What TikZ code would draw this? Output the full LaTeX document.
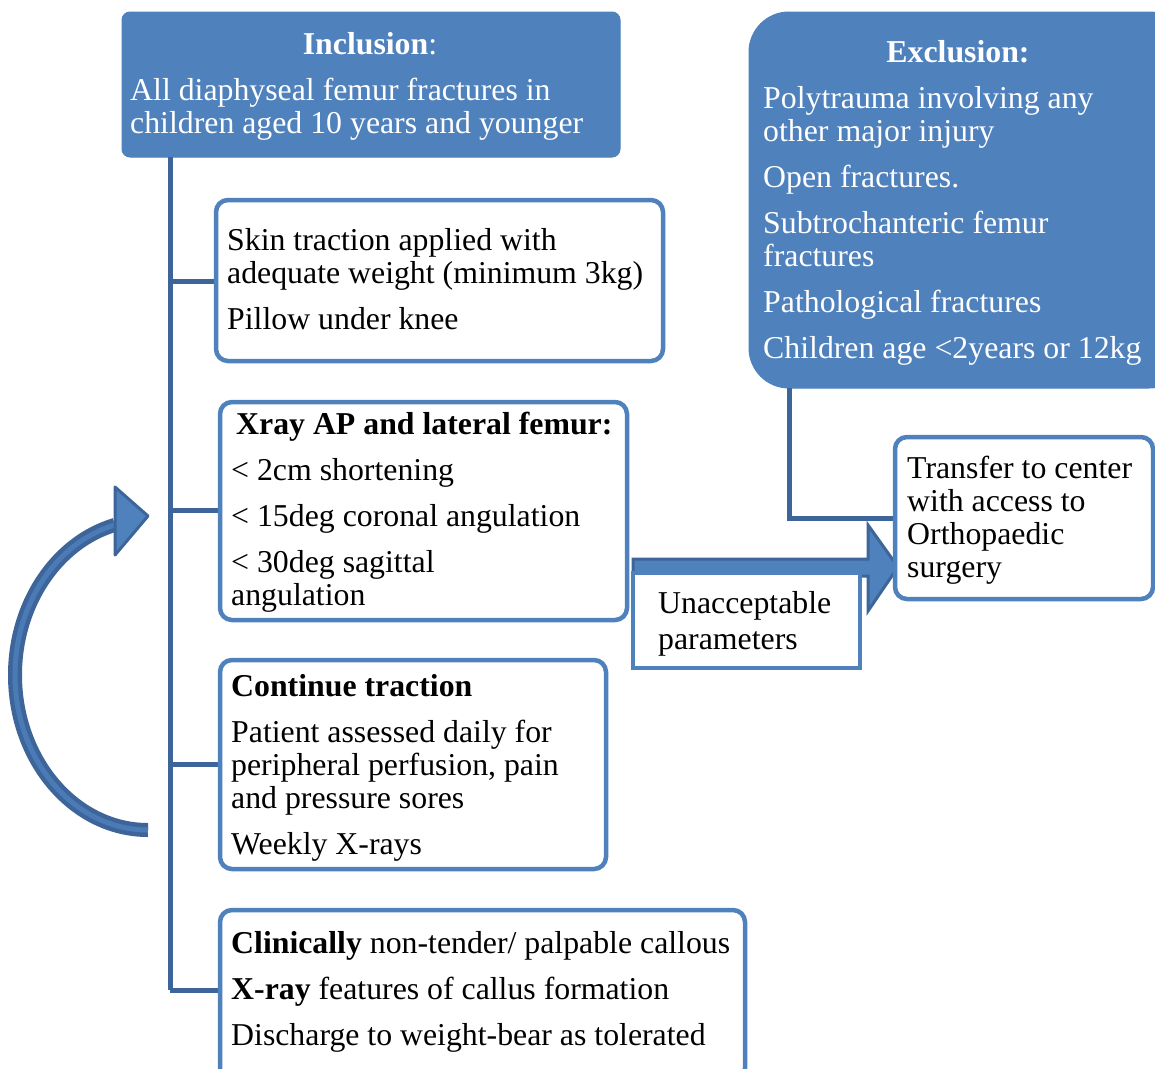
\documentclass[tikz,border=0pt]{standalone}
\usepackage{fontspec}
\setmainfont{Liberation Serif}
\definecolor{accent}{HTML}{4F81BD}
\definecolor{dark}{HTML}{3E6599}
\newcommand{\mylines}[1]{\begin{tabular}[t]{@{}l@{}}#1\end{tabular}}
\tikzset{
  filledbox/.style={fill=accent, draw=accent, line width=1pt, inner sep=0pt, outer sep=0pt, anchor=north west},
  whitebox/.style={draw=accent, line width=4.5pt, fill=white, rounded corners=12pt, inner sep=0pt, outer sep=0pt, anchor=north west},
  conn/.style={draw=dark, line width=5pt},
  txt/.style={inner sep=0pt, anchor=base west, font=\fontsize{31.8}{33}\selectfont},
  ctxt/.style={inner sep=0pt, anchor=base, font=\fontsize{31.8}{33}\selectfont},
}
\begin{document}
\begin{tikzpicture}[x=1pt,y=-1pt]
\clip (0,0) rectangle (1155,1068);
\fill[white] (0,0) rectangle (1155,1068);

% filled boxes
\node[filledbox, rounded corners=8pt, minimum width=498pt, minimum height=145pt] (incl) at (122,12) {};
\node[filledbox, rounded corners=40pt, minimum width=440pt, minimum height=376pt] (excl) at (749,12) {};

% connectors
\coordinate (trunkbot) at (170,990);
\draw[conn] (170,157) -- (trunkbot);
\draw[conn] (170,281) -- (216,281);
\draw[conn] (170,510) -- (220,510);
\draw[conn] (170,764) -- (220,764);
\draw[conn] (170,990) -- (220,990);
\draw[conn] (789,388) -- (789,518) -- (897,518);

% big block arrow
\draw[fill=accent, draw=dark, line width=3pt, line join=miter]
  (633,559) -- (868,559) -- (868,525) -- (898,567) -- (868,611) -- (868,576) -- (633,576) -- cycle;

% white boxes
\node[whitebox, minimum width=447pt, minimum height=161pt] (skin) at (216,200) {};
\node[whitebox, minimum width=407pt, minimum height=218pt] (xray) at (220,402) {};
\node[whitebox, minimum width=386pt, minimum height=209pt] (cont) at (220,660) {};
\node[whitebox, minimum width=525pt, minimum height=170pt] (last) at (220,910) {};
\node[whitebox, minimum width=258pt, minimum height=162pt] (transfer) at (895,437) {};
\node[whitebox, rounded corners=0pt, minimum width=227pt, minimum height=95pt] (unacc) at (633,573) {};

% curved loop arrow
\coordinate (loopstart) at (148,830);
\draw[dark, line width=14pt] (loopstart) arc[start angle=90, end angle=255.6, x radius=133, y radius=155] coordinate (loopend);
\draw[accent!80!dark, line width=5pt] (148,830) arc[start angle=90, end angle=255.6, x radius=133, y radius=155];
\draw[fill=accent, draw=dark, line width=3pt, line join=round] (115,487) -- (148,516) -- (115,555) -- cycle;

% texts
\node[ctxt, text=white] (inclhead) at (370,54) {\textbf{Inclusion}:};
\node[txt, text=white] (incltxt) at (130,100) {\mylines{All diaphyseal femur fractures in\\children aged 10 years and younger}};

\node[ctxt, text=white] (exclhead) at (958,62) {\textbf{Exclusion:}};
\node[txt, text=white] (excltxt) at (763,108) {\mylines{Polytrauma involving any\\other major injury\\[13pt]Open fractures.\\[13pt]Subtrochanteric femur\\fractures\\[13pt]Pathological fractures\\[13pt]Children age <2years or 12kg}};

\node[txt] (skintxt) at (227,250) {\mylines{Skin traction applied with\\adequate weight (minimum 3kg)\\[13pt]Pillow under knee}};

\node[txt] (xrayhead) at (236,434) {\textbf{Xray AP and lateral femur:}};
\node[txt] (xraytxt) at (231,480) {\mylines{< 2cm shortening\\[13pt]< 15deg coronal angulation\\[13pt]< 30deg sagittal\\angulation}};

\node[txt] (conttxt) at (231,696) {\mylines{\textbf{Continue traction}\\[13pt]Patient assessed daily for\\peripheral perfusion, pain\\and pressure sores\\[13pt]Weekly X-rays}};

\node[txt] (lasttxt) at (231,953) {\mylines{\textbf{Clinically} non-tender/ palpable callous\\[13pt]\textbf{X-ray} features of callus formation\\[13pt]Discharge to weight-bear as tolerated}};

\node[txt] (transtxt) at (907,478) {\mylines{Transfer to center\\with access to\\Orthopaedic\\surgery}};

\node[txt] (unacctxt) at (658,613) {\mylines{Unacceptable\\[3pt]parameters}};
\end{tikzpicture}
\end{document}
